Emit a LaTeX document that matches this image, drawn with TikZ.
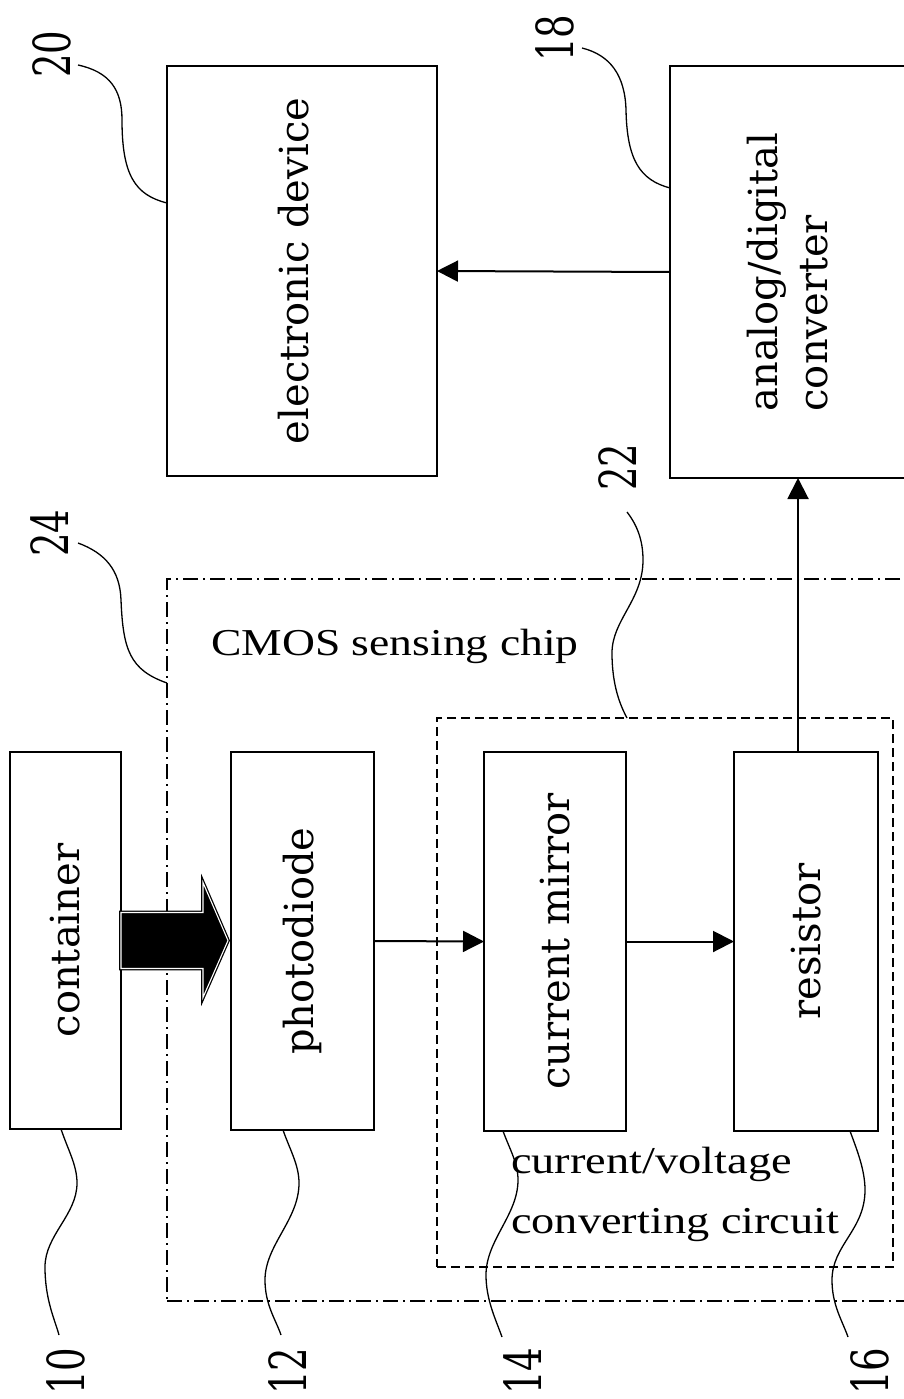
\documentclass[tikz,border=0pt]{standalone}
\usepackage{graphicx}
\usepackage{fontspec}
\setmainfont{Liberation Serif}
\newfontfamily\centf{DejaVu Serif}
\usetikzlibrary{arrows.meta}
\newcommand\vstr[2]{\rotatebox{90}{\scalebox{1}[#1]{#2}}}
\newcommand\hstr[2]{\scalebox{#1}[1]{#2}}
\begin{document}
\begin{tikzpicture}[x=1pt,y=-1pt,
  blk/.style={draw, line width=2.5pt, inner sep=0pt, outer sep=0pt, fill=white},
  btxt/.style={font=\centf\fontsize{40}{50}\selectfont},
  numlbl/.style={inner sep=0pt, font=\centf\fontsize{37}{45}\selectfont},
  arr/.style={line width=2pt, -{Triangle[length=21pt,width=21pt]}},
  lead/.style={line width=1.3pt},
  dashbox/.style={draw, line width=2pt, dash pattern=on 9pt off 5pt, inner sep=0pt, outer sep=0pt},
  chipbox/.style={draw, line width=2pt, dash pattern=on 15pt off 5pt on 2pt off 5pt, inner sep=0pt, outer sep=0pt},
]
\useasboundingbox (0,0) rectangle (904,1399);
\fill[white] (0,0) rectangle (904,1399);

% enclosing regions
\node[chipbox, minimum width=748pt, minimum height=722pt] (chip) at (541,940) {};
\node[dashbox, minimum width=456pt, minimum height=549pt] (ivc) at (665,992.5) {};

% blocks
\node[blk, btxt, minimum width=111pt, minimum height=377pt] (cont) at (65.5,940.5) {\vstr{1}{container}};
\node[blk, btxt, minimum width=143pt, minimum height=378pt] (pd) at (302.5,941) {\vstr{1}{photodiode}};
\node[blk, btxt, minimum width=142pt, minimum height=379pt] (cm) at (555,941.5) {\vstr{1}{current mirror}};
\node[blk, btxt, minimum width=144pt, minimum height=379pt] (res) at (806,941.5) {\vstr{1}{resistor}};
\node[blk, btxt, minimum width=270pt, minimum height=410pt] (ed) at (302,271) {\vstr{1}{electronic device\rule[-18pt]{0pt}{0pt}}};
\node[blk, btxt, minimum width=245pt, minimum height=412pt] (adc) at (792.5,272) {\vstr{1}{\begin{tabular}{@{}l@{}}analog/digital\\converter\end{tabular}}};

% region texts
\node[anchor=base west, inner sep=0pt, font=\fontsize{38}{46}\selectfont] (chiptxt) at (211,655) {\hstr{1.2}{CMOS sensing chip}};
\node[anchor=base west, inner sep=0pt, font=\fontsize{38}{60}\selectfont] (ivctxt) at (511,1173) {\hstr{1.22}{\begin{tabular}[t]{@{}l@{}}current/voltage\\converting circuit\end{tabular}}};

% connectors
\draw[arr] (pd.east) -- (cm.west);
\draw[arr] (cm.east) -- (res.west);
\draw[arr] ([xshift=-8pt]res.north) -- ([xshift=-8pt]res.north |- adc.south);
\draw[arr] (adc.west) -- (ed.east);

% fat light arrow container -> photodiode
\coordinate (fa0) at (cont.east);
\path[fill=black, draw=black, line width=3.6pt, line join=miter]
  ([yshift=28pt]fa0) -- ++(82,0) -- ++(0,-30) -- ++(25,58) -- ++(-25,57) -- ++(0,-29) -- ++(-82,0) -- cycle;
\draw[white, line width=1.1pt, line join=miter]
  ([yshift=28pt]fa0) -- ++(82,0) -- ++(0,-30) -- ++(25,58) -- ++(-25,57) -- ++(0,-29) -- ++(-82,0) -- cycle;

% reference numerals
\node[numlbl] (n20) at (52,54) {\vstr{1.38}{20}};
\node[numlbl] (n18) at (555,38) {\vstr{1.38}{18}};
\node[numlbl] (n24) at (50,533) {\vstr{1.38}{24}};
\node[numlbl] (n22) at (618,467) {\vstr{1.38}{22}};
\node[numlbl] (n10) at (66,1371) {\vstr{1.38}{10}};
\node[numlbl] (n12) at (288,1371) {\vstr{1.38}{12}};
\node[numlbl] (n14) at (523,1371) {\vstr{1.38}{14}};
\node[numlbl] (n16) at (870,1371) {\vstr{1.38}{16}};

% leader lines
\coordinate (l20a) at (78,65);   \coordinate (l20b) at (167,203);
\coordinate (l18a) at (582,48);  \coordinate (l18b) at (670,188);
\coordinate (l24a) at (78,543);  \coordinate (l24b) at (167,683);
\coordinate (l22a) at (627,512); \coordinate (l22b) at (627,718);
\coordinate (l10a) at (61,1129); \coordinate (l10b) at (59,1335);
\coordinate (l12a) at (283,1130); \coordinate (l12b) at (281,1335);
\coordinate (l14a) at (503,1131); \coordinate (l14b) at (502,1337);
\coordinate (l16a) at (850,1131); \coordinate (l16b) at (848,1337);

\draw[lead] (l20a) .. controls (110,72) and (122,90) .. (122,120) .. controls (122,175) and (135,195) .. (l20b);
\draw[lead] (l18a) .. controls (610,55) and (625,75) .. (626,110) .. controls (627,160) and (640,180) .. (l18b);
\draw[lead] (l24a) .. controls (105,553) and (120,570) .. (121,600) .. controls (123,650) and (130,670) .. (l24b);
\draw[lead] (l22a) .. controls (637,525) and (643,540) .. (643,560) .. controls (643,600) and (612,620) .. (612,653) .. controls (612,685) and (620,705) .. (l22b);
\draw[lead] (l10a) .. controls (68,1150) and (77,1165) .. (77,1183) .. controls (77,1215) and (45,1235) .. (45,1267) .. controls (45,1300) and (55,1320) .. (l10b);
\draw[lead] (l12a) .. controls (290,1150) and (299,1165) .. (299,1183) .. controls (299,1220) and (265,1245) .. (265,1280) .. controls (265,1305) and (276,1320) .. (l12b);
\draw[lead] (l14a) .. controls (510,1150) and (518,1163) .. (518,1180) .. controls (518,1215) and (486,1240) .. (486,1275) .. controls (486,1300) and (496,1320) .. (l14b);
\draw[lead] (l16a) .. controls (857,1150) and (865,1170) .. (865,1190) .. controls (865,1230) and (832,1245) .. (832,1280) .. controls (832,1305) and (842,1320) .. (l16b);
\end{tikzpicture}
\end{document}
